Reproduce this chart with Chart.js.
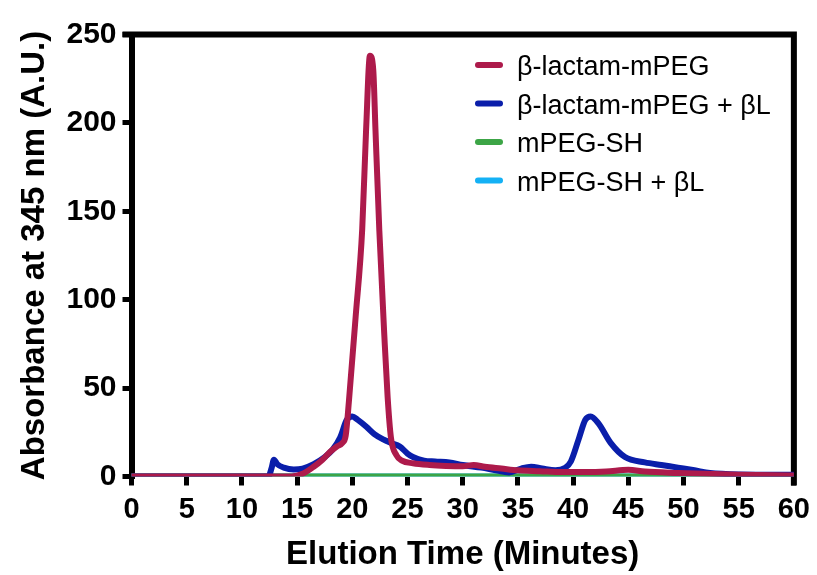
<!DOCTYPE html>
<html>
<head>
<meta charset="utf-8">
<script src="https://cdn.jsdelivr.net/npm/chart.js@4.4.1/dist/chart.umd.min.js"></script>
<style>
  html, body { margin: 0; padding: 0; background: #fff; }
  #wrap { width: 817px; height: 575px; position: relative; }
</style>
</head>
<body>
<div id="wrap"><canvas id="chart"></canvas></div>
<script>
// series labels + colours
const seriesNames = ['β-lactam-mPEG', 'β-lactam-mPEG + βL', 'mPEG-SH', 'mPEG-SH + βL'];
const seriesColors = ['#AD1A4B', '#0A1EAA', '#3CA546', '#14B1F5'];

// x ticks 0..60 by 5, y ticks 0..250 by 50
const xTicks = [0, 5, 10, 15, 20, 25, 30, 35, 40, 45, 50, 55, 60];
const yTicks = [0, 50, 100, 150, 200, 250];

// β-lactam-mPEG
const lactamTime = [0, 10, 14.5, 15.5, 16.5, 17.3, 18, 18.6, 19.1, 19.4, 19.7, 20.3, 20.9, 21.25, 21.6, 21.9, 22.1, 22.45, 22.9, 23.2, 23.5, 24, 24.5, 25.5, 27, 28.5, 30, 31, 32, 33.5, 35, 37, 39, 41, 43, 45, 46.5, 49.5, 52, 55, 60];
const lactamAbs = [0, 0, 0, 1.5, 5.5, 9.5, 14, 17, 19, 23, 43, 90, 140, 196, 238, 230, 196, 139, 80, 45, 22, 12, 9, 7.5, 6.5, 6, 5.8, 6.5, 5.5, 4.5, 3.5, 3, 2.5, 2.5, 2.8, 3.8, 2.8, 2, 1.5, 1, 0.5];

// β-lactam-mPEG + βL
const lactamBLTime = [0, 10, 12.4, 12.7, 12.9, 13.2, 13.8, 14.7, 15.5, 16.5, 17.5, 18.2, 18.9, 19.5, 20, 20.5, 21.3, 22, 22.8, 23.5, 24.3, 25, 25.5, 26.5, 27.5, 28.8, 30, 31.7, 33, 34.2, 35.3, 36.2, 37.2, 38.4, 39.3, 39.8, 40.5, 41.1, 41.6, 42.3, 43.4, 44.7, 46.5, 48, 49.5, 51, 52.4, 55, 60];
const lactamBLAbs = [0, 0, 0, 5, 9.5, 7, 5, 4, 4.5, 7, 11, 15, 22, 32, 34, 32, 28, 24, 21, 19, 17, 13, 11, 9, 8.5, 8, 6.5, 5, 3.5, 2.3, 4.5, 5.5, 4.5, 3.5, 5, 8.5, 21, 32, 34, 30, 19, 11, 8, 6.5, 5, 3.5, 2, 1.2, 1];

// mPEG-SH
const peghTime = [0, 15, 30, 45, 60];
const peghAbs = [0, 0, 0, 0, 0];

// mPEG-SH + βL
const peghBLTime = [0, 15, 30, 45, 60];
const peghBLAbs = [0, 0, 0, 0, 0];

const FONT = 'Arial, "Liberation Sans", Helvetica, sans-serif';

function toPoints(xs, ys) {
    return xs.map((x, i) => ({ x: x, y: ys[i] }));
}

const allTimes = [lactamTime, lactamBLTime, peghTime, peghBLTime];
const allAbs = [lactamAbs, lactamBLAbs, peghAbs, peghBLAbs];

const datasets = seriesNames.map((name, i) => ({
    label: name,
    data: toPoints(allTimes[i], allAbs[i]),
    borderColor: seriesColors[i],
    backgroundColor: seriesColors[i],
    borderWidth: 6,
    pointRadius: 0,
    fill: false,
    cubicInterpolationMode: 'monotone',
    borderCapStyle: 'round',
    borderJoinStyle: 'round'
}));

// top + right frame lines
const framePlugin = {
    id: 'frame',
    beforeDatasetsDraw(chart) {
        const { ctx, chartArea } = chart;
        ctx.save();
        ctx.strokeStyle = '#000';
        ctx.lineWidth = 6;
        ctx.lineCap = 'butt';
        ctx.beginPath();
        ctx.moveTo(chartArea.left - 9, chartArea.top);
        ctx.lineTo(chartArea.right + 3, chartArea.top);
        ctx.moveTo(chartArea.right, chartArea.top - 3);
        ctx.lineTo(chartArea.right, chartArea.bottom + 9);
        ctx.stroke();
        ctx.restore();
    }
};

// legend inside the plot, top right
const legendPlugin = {
    id: 'innerLegend',
    afterDraw(chart) {
        const { ctx } = chart;
        ctx.save();
        ctx.font = '27px ' + FONT;
        ctx.textBaseline = 'middle';
        ctx.fillStyle = '#000';
        chart.data.datasets.forEach((ds, i) => {
            const y = 65 + i * 38.5;
            ctx.strokeStyle = ds.borderColor;
            ctx.lineWidth = 6;
            ctx.lineCap = 'round';
            ctx.beginPath();
            ctx.moveTo(478, y);
            ctx.lineTo(500, y);
            ctx.stroke();
            ctx.fillText(ds.label, 517, y + 3);
        });
        ctx.restore();
    }
};

new Chart(document.getElementById('chart'), {
    type: 'line',
    data: { datasets: datasets },
    options: {
        responsive: true,
        maintainAspectRatio: false,
        animation: false,
        layout: { padding: { top: 34.5, right: 21.5, left: 0, bottom: 0 } },
        plugins: {
            legend: { display: false },
            tooltip: { enabled: false }
        },
        scales: {
            x: {
                type: 'linear',
                min: 0,
                max: 60,
                afterBuildTicks: scale => { scale.ticks = xTicks.map(v => ({ value: v })); },
                afterFit: scale => { scale.height = 98.5; },
                border: { display: false },
                grid: { drawOnChartArea: false, color: '#000', lineWidth: 5, tickLength: 9 },
                ticks: { color: '#000', padding: 7, font: { family: FONT, size: 29, weight: 'bold' } },
                title: {
                    display: true,
                    text: 'Elution Time (Minutes)',
                    color: '#000',
                    padding: { top: 0, bottom: 0 },
                    font: { family: FONT, size: 33, weight: 'bold' }
                }
            },
            y: {
                type: 'linear',
                min: 0,
                max: 250,
                afterBuildTicks: scale => { scale.ticks = yTicks.map(v => ({ value: v })); },
                afterFit: scale => { scale.width = 131.5; },
                border: { display: true, color: '#000', width: 6 },
                grid: { drawOnChartArea: false, color: '#000', lineWidth: 5, tickLength: 9 },
                ticks: { color: '#000', padding: 6, font: { family: FONT, size: 30, weight: 'bold' } },
                title: {
                    display: true,
                    text: 'Absorbance at 345 nm (A.U.)',
                    color: '#000',
                    padding: { top: 15, bottom: 0 },
                    font: { family: FONT, size: 33, weight: 'bold' }
                }
            }
        }
    },
    plugins: [framePlugin, legendPlugin]
});
</script>
</body>
</html>
